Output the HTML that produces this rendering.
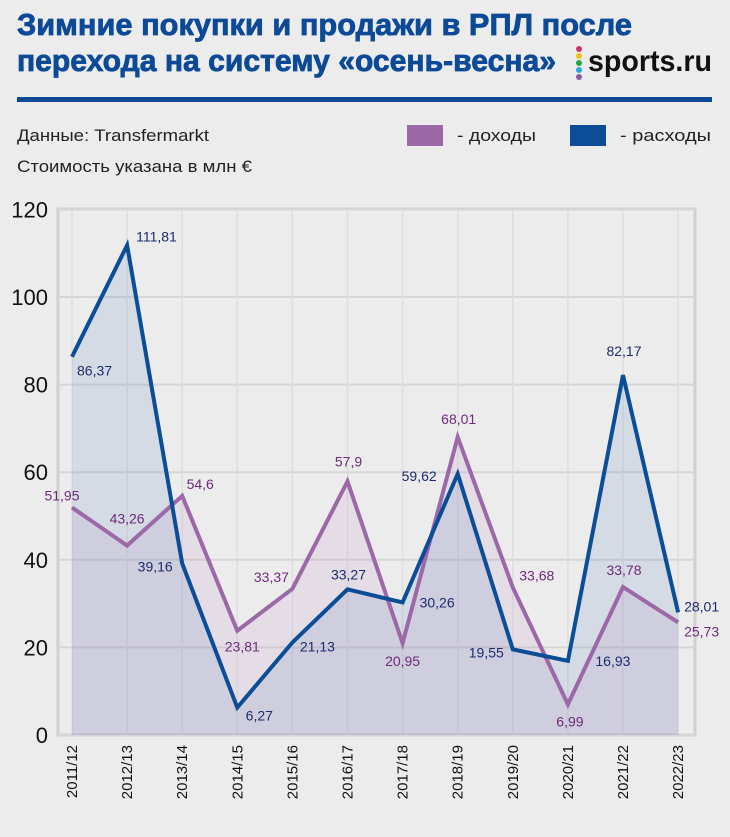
<!DOCTYPE html>
<html><head><meta charset="utf-8"><style>
html,body{margin:0;padding:0;background:#ececec;}
svg{display:block;font-family:"Liberation Sans","DejaVu Sans",sans-serif;}
</style></head><body>
<svg width="730" height="837" viewBox="0 0 730 837" id="chart">
<rect x="0" y="0" width="730" height="837" fill="#ececec"/>
<text x="17" y="35" font-size="31" font-weight="bold" fill="#0c4a98" stroke="#0c4a98" stroke-width="0.8" textLength="615" lengthAdjust="spacingAndGlyphs">Зимние покупки и продажи в РПЛ после</text>
<text x="17" y="71" font-size="31" font-weight="bold" fill="#0c4a98" stroke="#0c4a98" stroke-width="0.8" textLength="539" lengthAdjust="spacingAndGlyphs">перехода на систему «осень-весна»</text>
<g>
<circle cx="579" cy="49" r="3" fill="#d3306a"/><circle cx="579" cy="56" r="3" fill="#f2c21b"/><circle cx="579" cy="63" r="3" fill="#27a844"/><circle cx="579" cy="70" r="3" fill="#2aa7e0"/><circle cx="579" cy="77" r="3" fill="#8e5aa8"/>
<text x="588" y="71" font-size="30" font-weight="bold" fill="#111" textLength="124" lengthAdjust="spacingAndGlyphs">sports.ru</text>
</g>
<rect x="17" y="97" width="695" height="5" fill="#0c4a98"/>
<text x="17" y="141" font-size="17" fill="#222" textLength="192" lengthAdjust="spacingAndGlyphs">Данные: Transfermarkt</text>
<text x="17" y="172" font-size="17" fill="#222" textLength="235" lengthAdjust="spacingAndGlyphs">Стоимость указана в млн €</text>
<g>
<rect x="407" y="125" width="36" height="21" fill="#9c68a8"/>
<text x="457" y="141" font-size="17" fill="#222" textLength="79" lengthAdjust="spacingAndGlyphs">- доходы</text>
<rect x="570" y="125" width="36" height="21" fill="#0b4d96"/>
<text x="620" y="141" font-size="17" fill="#222" textLength="91" lengthAdjust="spacingAndGlyphs">- расходы</text>
</g>
<g id="plot"></g>
</svg>
<script>
const categories = ["2011/12","2012/13","2013/14","2014/15","2015/16","2016/17","2017/18","2018/19","2019/20","2020/21","2021/22","2022/23"];
const spending = [86.37,111.81,39.16,6.27,21.13,33.27,30.26,59.62,19.55,16.93,82.17,28.01];
const income = [51.95,43.26,54.6,23.81,33.37,57.9,20.95,68.01,33.68,6.99,33.78,25.73];
const spendingLabels = ["86,37","111,81","39,16","6,27","21,13","33,27","30,26","59,62","19,55","16,93","82,17","28,01"];
const incomeLabels = ["51,95","43,26","54,6","23,81","33,37","57,9","20,95","68,01","33,68","6,99","33,78","25,73"];
const yTicks = [0,20,40,60,80,100,120];
// label offsets (style, not data): [dx, dy, anchor]
const spendOff = [[5,14,"start"],[9,-9,"start"],[-27,3,"middle"],[22,8,"middle"],[25,4,"middle"],[1,-15,"middle"],[17,0,"start"],[-21,2,"end"],[-9,3,"end"],[45,0,"middle"],[1,-24,"middle"],[6,-6,"start"]];
const incOff = [[-10,-12,"middle"],[0,-27,"middle"],[18,-12,"middle"],[5,16,"middle"],[-21,-12,"middle"],[1,-20,"middle"],[0,18,"middle"],[1,-18,"middle"],[24,-12,"middle"],[2,17,"middle"],[1,-17,"middle"],[6,9,"start"]];
const NS="http://www.w3.org/2000/svg";
const plot=document.getElementById('plot');
const X0=72, DX=55.1, Y0=735, KY=4.38;
function xs(i){return X0+i*DX;}
function ys(v){return Y0-v*KY;}
function mk(tag,attrs,parent){const e=document.createElementNS(NS,tag);for(const k in attrs)e.setAttribute(k,attrs[k]);(parent||plot).appendChild(e);return e;}
const frame=mk('rect',{x:58,y:209,width:637,height:526,fill:'none',stroke:'#d0d0d0','stroke-width':3});


yTicks.forEach(t=>{
  const g=mk('line',{x1:58,x2:695,y1:ys(t),y2:ys(t),stroke:'#d6d6d6','stroke-width':2});
  
  
  const l=mk('text',{x:48,y:ys(t)+8,'font-size':22,fill:'#111','text-anchor':'end'});
  l.textContent=String(t);
  
  
});
categories.forEach((c,i)=>{
  const g=mk('line',{x1:xs(i),x2:xs(i),y1:210,y2:734,stroke:'#dedede','stroke-width':1.5});
  
  
  const t=mk('text',{x:0,y:0,'font-size':15,fill:'#111','text-anchor':'end',transform:`translate(${xs(i)+5},745) rotate(-90)`});
  t.textContent=c;
  
  
});
function pts(arr){return arr.map((v,i)=>xs(i)+','+ys(v)).join(' ');}
function area(arr){return xs(0)+','+Y0+' '+pts(arr)+' '+xs(arr.length-1)+','+Y0;}
const a1=mk('polygon',{points:area(spending),fill:'rgba(40,100,170,0.12)'});


const a2=mk('polygon',{points:area(income),fill:'rgba(180,120,190,0.13)'});


const l2=mk('polyline',{points:pts(income),fill:'none',stroke:'#9c68a8','stroke-width':4,'stroke-linejoin':'miter'});


const l1=mk('polyline',{points:pts(spending),fill:'none',stroke:'#0b4d96','stroke-width':4,'stroke-linejoin':'miter'});


spending.forEach((v,i)=>{
  const o=spendOff[i];
  const t=mk('text',{x:xs(i)+o[0],y:ys(v)+o[1]+5,'font-size':14,fill:'#1d2a6e','text-anchor':o[2]});
  t.textContent=spendingLabels[i];
  
  
});
income.forEach((v,i)=>{
  const o=incOff[i];
  const t=mk('text',{x:xs(i)+o[0],y:ys(v)+o[1]+5,'font-size':14,fill:'#6f2a7c','text-anchor':o[2]});
  t.textContent=incomeLabels[i];
  
  
});
</script>
</body></html>
